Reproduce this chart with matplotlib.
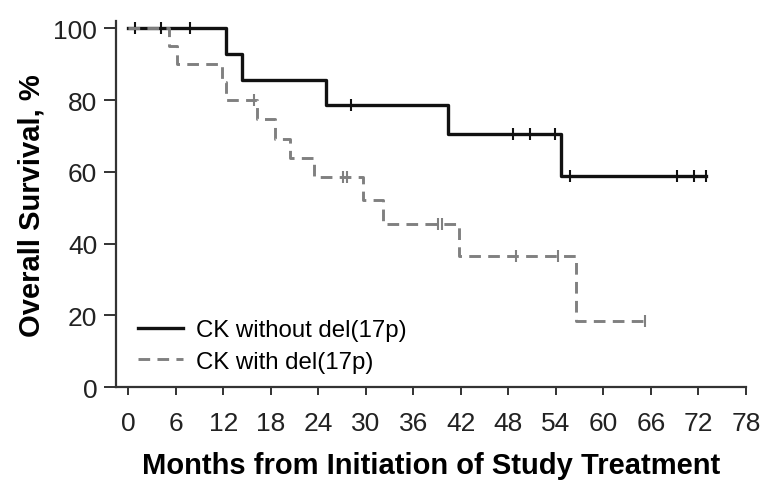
import matplotlib
matplotlib.use("Agg")
import matplotlib.pyplot as plt
import numpy as np

plt.rcParams['font.family'] = ['Liberation Sans', 'DejaVu Sans']

# KM steps, CK without del(17p)
t_nodel = [0, 12.3, 14.4, 25.0, 40.4, 54.6]
s_nodel = [100, 92.9, 85.7, 78.6, 70.7, 58.9]
end_nodel = 73.0
cens_nodel = [0.8, 4.1, 7.8, 28.1, 48.6, 50.7, 53.9, 55.8, 69.3, 71.5, 73.0]

# KM steps, CK with del(17p)
t_del = [0, 5.2, 6.2, 11.9, 12.3, 16.2, 18.5, 20.4, 23.5, 29.6, 32.2, 41.8, 56.6]
s_del = [100, 95, 90, 85, 80, 74.7, 69.3, 64.0, 58.7, 52.2, 45.6, 36.5, 18.3]
end_del = 65.3
cens_del = [15.9, 27.1, 27.6, 39.1, 39.6, 49.0, 54.3, 65.3]

xticks = list(range(0, 79, 6))
yticks = [0, 20, 40, 60, 80, 100]


def km_at(times, surv, t):
    idx = np.searchsorted(times, t, side='right') - 1
    return np.array(surv)[idx]


fig = plt.figure(figsize=(7.64, 4.81), dpi=100)
ax = fig.add_axes([0.1518, 0.1933, 0.8246, 0.7603])

black = '#111111'
grey = '#808080'

x1 = t_nodel + [end_nodel]
y1 = s_nodel + [s_nodel[-1]]
ax.step(x1, y1, where='post', color=black, lw=2.4, label='CK without del(17p)')
ax.plot(cens_nodel, km_at(t_nodel, s_nodel, cens_nodel), ls='none', marker='|',
        ms=8.5, mew=1.5, color=black)

x2 = t_del + [end_del]
y2 = s_del + [s_del[-1]]
ax.step(x2, y2, where='post', color=grey, lw=2.1, dashes=(4, 2.5),
        label='CK with del(17p)')
ax.plot(cens_del, km_at(t_del, s_del, cens_del), ls='none', marker='|',
        ms=8.5, mew=1.5, color=grey)

ax.set_xlim(-1.55, 78)
ax.set_ylim(0, 102)
ax.set_xticks(xticks)
ax.set_yticks(yticks)
ax.tick_params(axis='both', labelsize=19, colors='#222222', width=1.3)
ax.tick_params(axis='x', length=6, pad=11)
ax.tick_params(axis='y', length=8.5, pad=5)
for s in ['top', 'right']:
    ax.spines[s].set_visible(False)
for s in ['left', 'bottom']:
    ax.spines[s].set_linewidth(1.6)
    ax.spines[s].set_color('#333333')

ax.set_xlabel('Months from Initiation of Study Treatment', fontsize=21,
              fontweight='bold', labelpad=12)
ax.set_ylabel('Overall Survival, %', fontsize=21, fontweight='bold', labelpad=6)

ax.legend(loc='lower left', bbox_to_anchor=(0.0, -0.02), frameon=False,
          fontsize=17.3, handlelength=1.9, handletextpad=0.55, labelspacing=0.4)

fig.savefig('out.png', dpi=100)
